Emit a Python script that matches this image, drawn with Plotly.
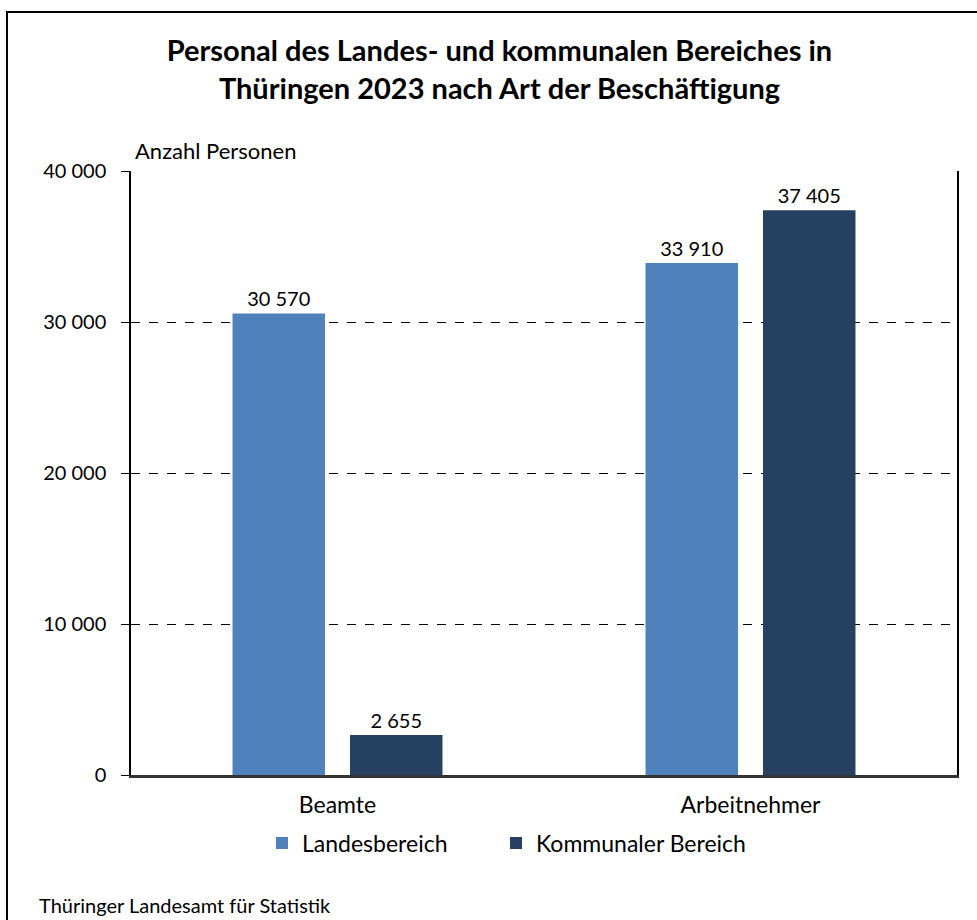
import plotly.graph_objects as go

categories = ["Beamte", "Arbeitnehmer"]
landes = [30570, 33910]
kommunal = [2655, 37405]
series_names = ["Landesbereich", "Kommunaler Bereich"]
y_ticks = [0, 10000, 20000, 30000, 40000]

FONT = "Lato"
W, H = 977, 920
L, R, T, B = 131, 957, 171, 775
pw, ph = R - L, B - T

def px(x):
    return (x - L) / pw

def py(y):
    return (B - y) / ph

fig = go.Figure()
for name, vals, col, lg in [(series_names[0], landes, "#4F81BD", "legend"),
                            (series_names[1], kommunal, "#264061", "legend2")]:
    fig.add_trace(go.Bar(
        x=categories, y=vals, name=name, marker=dict(color=col, line=dict(width=0)),
        texttemplate="%{y:,.0f}", textposition="outside", cliponaxis=False,
        textfont=dict(family=FONT, size=20, color="#000000"), legend=lg,
    ))

leg_common = dict(orientation="h", xanchor="left", y=py(843), yanchor="middle",
                  font=dict(family=FONT, size=23), bgcolor="rgba(0,0,0,0)")

fig.update_layout(
    width=W, height=H,
    margin=dict(l=L, r=W - R, t=T, b=H - B, pad=0),
    paper_bgcolor="white", plot_bgcolor="white",
    separators=", ",
    barmode="group", bargap=0.431, bargroupgap=0.213,
    font=dict(family=FONT, size=20, color="#000000"),
    title=dict(
        text="<b>Personal des Landes- und kommunalen Bereiches in<br>Thüringen 2023 nach Art der Beschäftigung</b>",
        x=499.5 / W, xref="container", xanchor="center",
        y=1 - 61 / H, yref="container", yanchor="middle",
        font=dict(family=FONT, size=29, color="#000000"),
    ),
    showlegend=True,
    legend=dict(x=px(262), **leg_common),
    legend2=dict(x=px(496), **leg_common),
    xaxis=dict(showline=True, linecolor="#333333", linewidth=2.5, ticks="", showgrid=False,
               tickfont=dict(family=FONT, size=23), ticklabelstandoff=8),
    yaxis=dict(range=[0, 40000], tickvals=y_ticks, tickformat=",d", showline=True,
               linecolor="#000000", linewidth=1.5, mirror=True, ticks="outside", ticklen=8,
               tickcolor="#000000", tickwidth=1.2, showgrid=True, gridcolor="#000000",
               griddash="dash", gridwidth=1, zeroline=False, ticklabelstandoff=11,
               tickfont=dict(family=FONT, size=20)),
)

fig.add_annotation(text="Anzahl Personen", xref="paper", yref="paper", x=px(133), y=py(150),
                   xanchor="left", yanchor="middle", showarrow=False,
                   font=dict(family=FONT, size=22, color="#000000"))
fig.add_annotation(text="Thüringer Landesamt für Statistik", xref="paper", yref="paper",
                   x=px(37), y=py(905), xanchor="left", yanchor="middle", showarrow=False,
                   font=dict(family=FONT, size=20, color="#000000"))
fig.add_shape(type="rect", xref="paper", yref="paper", x0=px(7), x1=px(1100), y0=py(1100), y1=py(12),
              line=dict(color="#000000", width=2), fillcolor="rgba(0,0,0,0)", layer="above")

fig.write_html("out.html", config={"displayModeBar": False},
               post_script="document.body.style.margin='0';document.body.style.overflow='hidden';")
